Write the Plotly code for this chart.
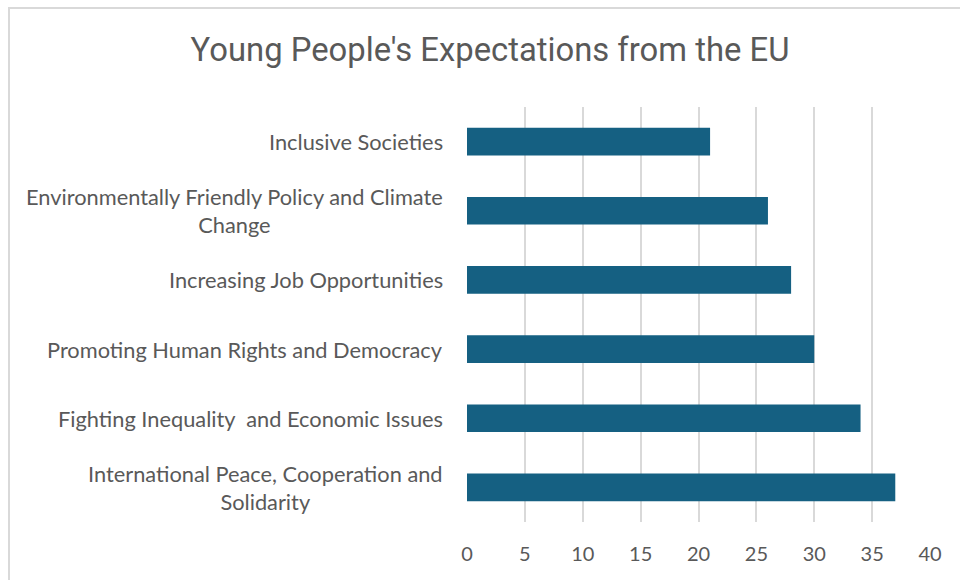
import plotly.graph_objects as go

categories = [
    "International Peace, Cooperation and<br>Solidarity",
    "Fighting Inequality  and Economic Issues",
    "Promoting Human Rights and Democracy",
    "Increasing Job Opportunities",
    "Environmentally Friendly Policy and Climate<br>Change",
    "Inclusive Societies",
]
values = [37, 34, 30, 28, 26, 21]
x_ticks = [0, 5, 10, 15, 20, 25, 30, 35, 40]

W, H = 960, 580
L, R, T, B = 467, 30, 107, 58
pw, ph = W - L - R, H - T - B

fig = go.Figure()
fig.add_trace(go.Bar(
    y=categories, x=values, orientation="h",
    marker=dict(color="#156082", line=dict(width=0)),
    width=0.4, hoverinfo="x+y",
))

label_font = dict(family="Lato", size=21.8, color="#595959")
for c in categories:
    fig.add_annotation(
        x=(445 - L) / pw, xref="paper", y=c, yref="y",
        text=c, showarrow=False, xanchor="right", yanchor="middle",
        align="center", font=label_font,
    )

fig.update_layout(
    width=W, height=H,
    margin=dict(l=L, r=R, t=T, b=B, autoexpand=False),
    paper_bgcolor="white", plot_bgcolor="white",
    title=dict(text="Young People's Expectations from the EU",
               font=dict(family="Roboto", size=32.8, color="#595959"),
               x=490 / W, xref="container", xanchor="center",
               y=1 - 50 / H, yref="container", yanchor="middle"),
    showlegend=False,
    bargap=0.6,
    xaxis=dict(range=[0, 40], tickvals=x_ticks, ticktext=[str(v) for v in x_ticks],
               showgrid=True, gridcolor="#d9d9d9", gridwidth=1.5,
               zeroline=False, showline=False, ticks="",
               tickfont=dict(family="Lato", size=20, color="#595959"),
               ticklabelstandoff=18, automargin=False, fixedrange=True),
    yaxis=dict(categoryorder="array", categoryarray=categories,
               range=[-0.5, len(categories) - 0.5],
               showticklabels=False, showgrid=False, zeroline=False,
               showline=False, ticks="", automargin=False, fixedrange=True),
    shapes=[dict(type="rect", xref="paper", yref="paper",
                 x0=(9 - L) / pw, x1=(975 - L) / pw,
                 y0=(H - B - 595) / ph, y1=(H - B - 8) / ph,
                 line=dict(color="#d9d9d9", width=2), fillcolor="rgba(0,0,0,0)",
                 layer="below")],
)

fig.write_html("out.html")
